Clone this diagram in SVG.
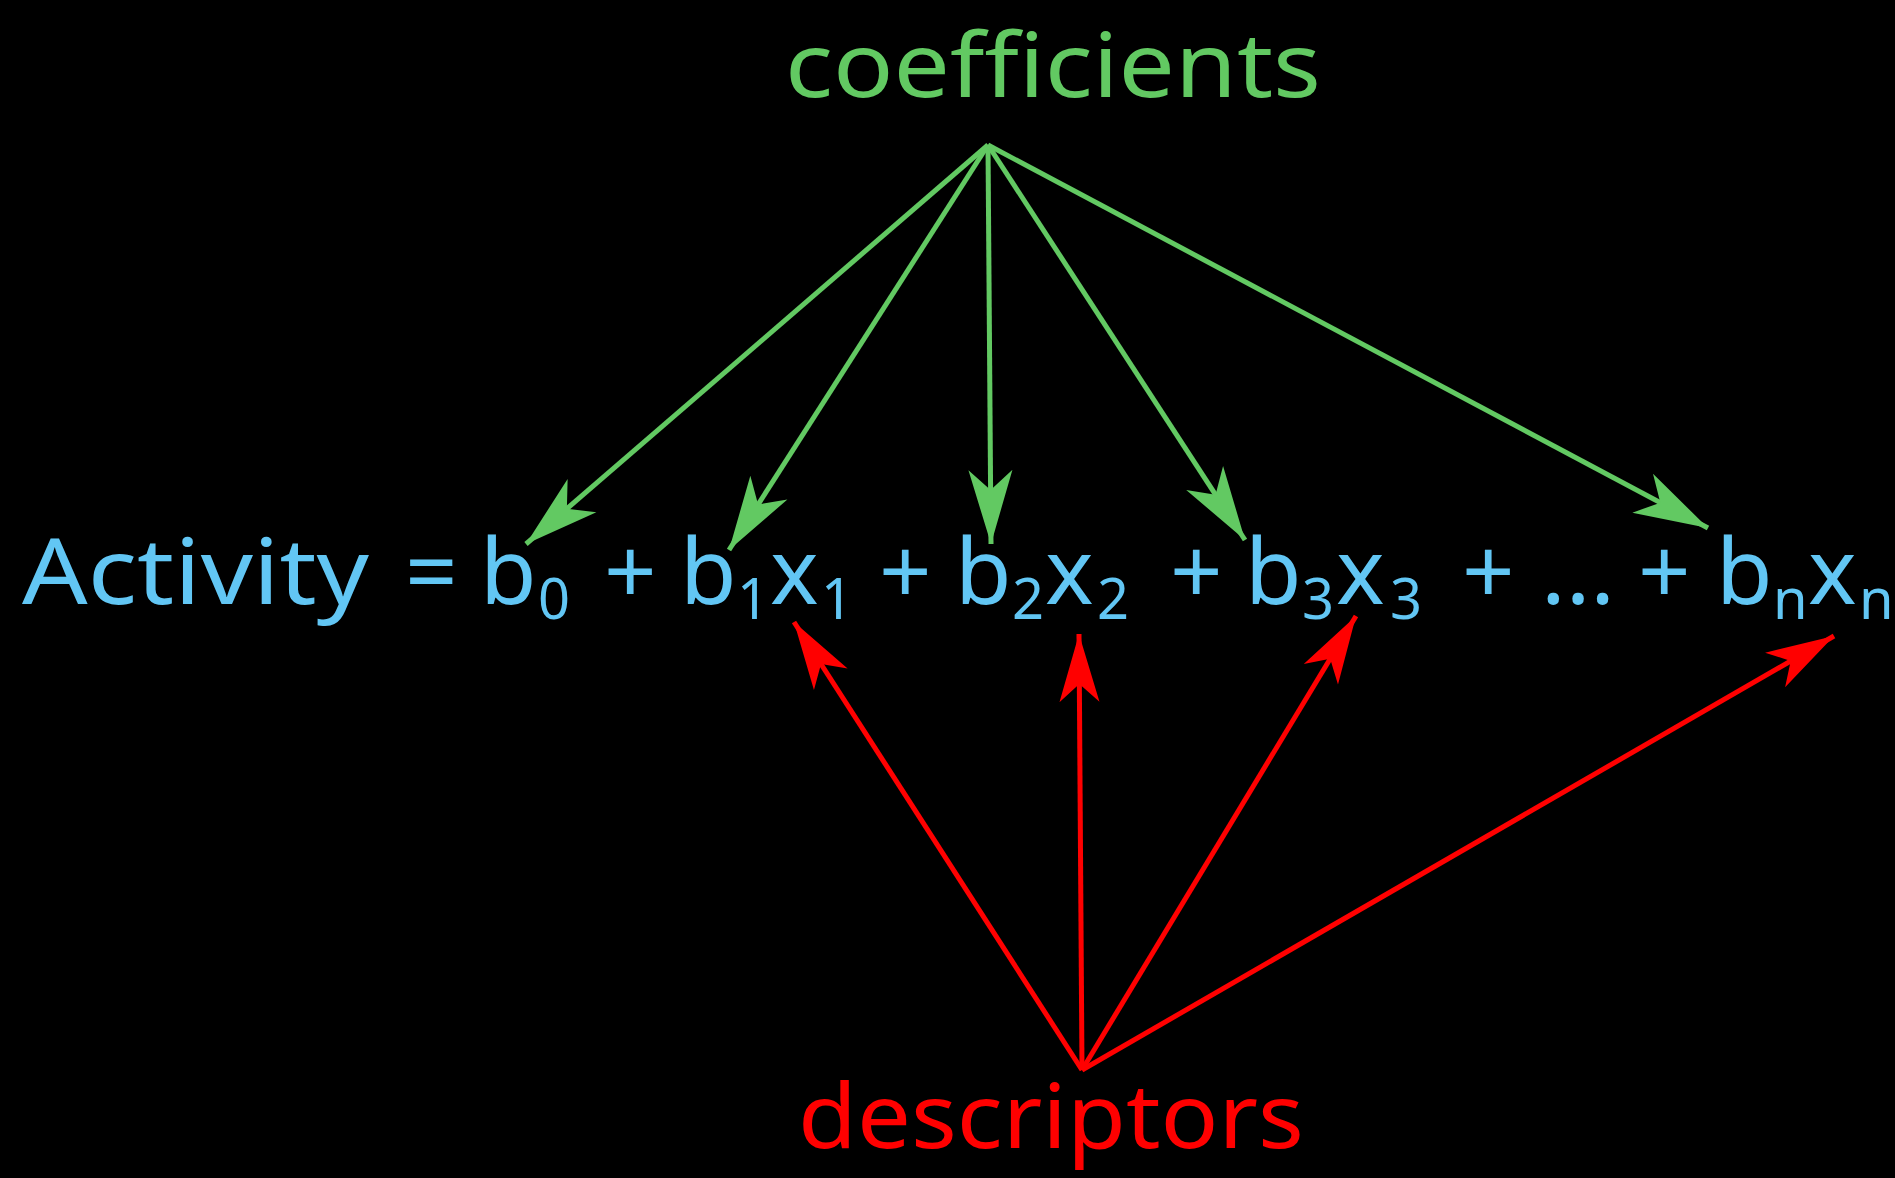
<svg xmlns="http://www.w3.org/2000/svg" width="1895" height="1178" viewBox="0 0 1895 1178">
<style>
text{font-family:"Comic Sans MS","Noto Sans",sans-serif;}
.eq{fill:#62c6f4;font-size:92px;}
.sub{font-size:56px;}
.g{stroke:#62c962;stroke-width:5;fill:none;}
.r{stroke:#ff0000;stroke-width:5;fill:none;}
</style>
<defs>
<marker id="ag" markerUnits="userSpaceOnUse" viewBox="-80 -25 85 50" markerWidth="85" markerHeight="50" refX="0" refY="0" orient="auto">
<path d="M0,0 L-74,-22 L-54,0 L-74,22 Z" fill="#62c962"/>
</marker>
<marker id="ar" markerUnits="userSpaceOnUse" viewBox="-80 -25 85 50" markerWidth="85" markerHeight="50" refX="0" refY="0" orient="auto">
<path d="M0,0 L-68,-20 L-50,0 L-68,20 Z" fill="#ff0000"/>
</marker>
</defs>
<rect width="1895" height="1178" fill="#000"/>
<g id="coefficients"><text x="1053" y="97" text-anchor="middle" fill="#62c962" font-size="90" textLength="536" lengthAdjust="spacingAndGlyphs">coefficients</text></g>
<g id="descriptors"><text x="1051" y="1148" text-anchor="middle" fill="#ff0000" font-size="90" textLength="506" lengthAdjust="spacingAndGlyphs">descriptors</text></g>
<g id="equation">
<text class="eq" y="604"><tspan x="22" textLength="347" lengthAdjust="spacingAndGlyphs">Activity</tspan><tspan x="405">=</tspan><tspan x="480">b</tspan><tspan x="538" y="619" class="sub">0</tspan><tspan x="604" y="604">+</tspan><tspan x="680">b</tspan><tspan x="737" y="619" class="sub">1</tspan><tspan x="770" y="604">x</tspan><tspan x="821" y="619" class="sub">1</tspan><tspan x="879" y="604">+</tspan><tspan x="955">b</tspan><tspan x="1012" y="619" class="sub">2</tspan><tspan x="1045" y="604">x</tspan><tspan x="1097" y="619" class="sub">2</tspan><tspan x="1170" y="604">+</tspan><tspan x="1245">b</tspan><tspan x="1302" y="619" class="sub">3</tspan><tspan x="1336" y="604">x</tspan><tspan x="1390" y="619" class="sub">3</tspan><tspan x="1462" y="604">+</tspan><tspan x="1541">...</tspan><tspan x="1638">+</tspan><tspan x="1716">b</tspan><tspan x="1773" y="619" class="sub">n</tspan><tspan x="1808" y="604">x</tspan><tspan x="1859" y="619" class="sub">n</tspan></text>
</g>
<g id="connectors">
<line class="g" x1="988" y1="145" x2="526" y2="544" marker-end="url(#ag)"/>
<line class="g" x1="988" y1="145" x2="729" y2="550" marker-end="url(#ag)"/>
<line class="g" x1="988" y1="145" x2="991" y2="544" marker-end="url(#ag)"/>
<line class="g" x1="988" y1="145" x2="1245" y2="540" marker-end="url(#ag)"/>
<line class="g" x1="988" y1="145" x2="1708" y2="528" marker-end="url(#ag)"/>
<line class="r" x1="1082" y1="1070" x2="794" y2="622" marker-end="url(#ar)"/>
<line class="r" x1="1082" y1="1070" x2="1079" y2="634" marker-end="url(#ar)"/>
<line class="r" x1="1082" y1="1070" x2="1356" y2="616" marker-end="url(#ar)"/>
<line class="r" x1="1082" y1="1070" x2="1834" y2="636" marker-end="url(#ar)"/>
</g>
</svg>
